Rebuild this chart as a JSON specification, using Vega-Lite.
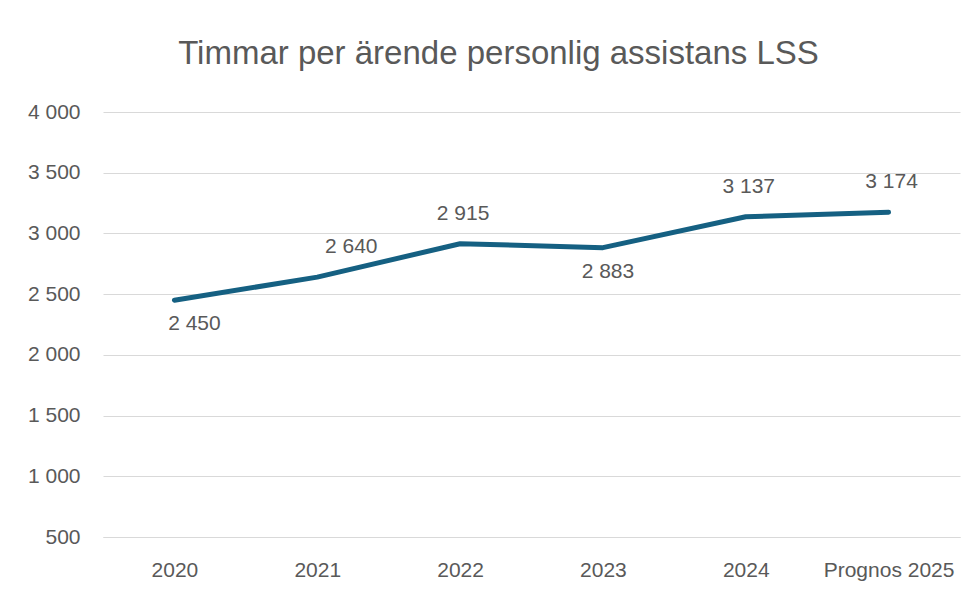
{
  "$schema": "https://vega.github.io/schema/vega-lite/v6.json",
  "width": 857,
  "height": 425,
  "autosize": {"type": "none"},
  "padding": {"left": 103, "top": 112, "right": 18, "bottom": 57},
  "background": "white",
  "config": {
    "locale": {"number": {"decimal": ",", "thousands": " ", "grouping": [3], "currency": ["", " kr"]}},
    "font": "Liberation Sans",
    "view": {"stroke": null},
    "axis": {"labelColor": "#595959", "labelFontSize": 21, "gridColor": "#d9d9d9", "domainColor": "#d9d9d9", "ticks": false, "title": null}
  },
  "title": {"text": "Timmar per ärende personlig assistans LSS", "fontSize": 33, "fontWeight": "normal", "color": "#595959", "anchor": "middle", "dx": -33, "offset": 30},
  "data": {"values": [
    {"year": "2020", "value": 2450},
    {"year": "2021", "value": 2640},
    {"year": "2022", "value": 2915},
    {"year": "2023", "value": 2883},
    {"year": "2024", "value": 3137},
    {"year": "Prognos 2025", "value": 3174}
  ]},
  "encoding": {
    "x": {"field": "year", "type": "ordinal", "scale": {"type": "point", "padding": 0.5}, "axis": {"labelAngle": 0, "labelPadding": 22, "domain": true, "grid": false}},
    "y": {"field": "value", "type": "quantitative", "scale": {"domain": [500, 4000], "nice": false, "zero": false}, "axis": {"values": [500, 1000, 1500, 2000, 2500, 3000, 3500, 4000], "format": ",d", "labelPadding": 23, "domain": false, "grid": true}}
  },
  "layer": [
    {"mark": {"type": "line", "color": "#156082", "strokeWidth": 5, "strokeCap": "round", "strokeJoin": "round"}},
    {"transform": [{"filter": "datum.year == '2020'"}], "mark": {"type": "text", "fontSize": 21, "color": "#595959", "baseline": "middle", "dy": 24, "dx": 20}, "encoding": {"text": {"field": "value", "type": "quantitative", "format": ",d"}}},
    {"transform": [{"filter": "datum.year == '2023'"}], "mark": {"type": "text", "fontSize": 21, "color": "#595959", "baseline": "middle", "dy": 24, "dx": 5}, "encoding": {"text": {"field": "value", "type": "quantitative", "format": ",d"}}},
    {"transform": [{"filter": "datum.year == '2021'"}], "mark": {"type": "text", "fontSize": 21, "color": "#595959", "baseline": "middle", "dy": -30, "dx": 34}, "encoding": {"text": {"field": "value", "type": "quantitative", "format": ",d"}}},
    {"transform": [{"filter": "datum.year == '2022' || datum.year == '2024' || datum.year == 'Prognos 2025'"}], "mark": {"type": "text", "fontSize": 21, "color": "#595959", "baseline": "middle", "dy": -30, "dx": 3}, "encoding": {"text": {"field": "value", "type": "quantitative", "format": ",d"}}}
  ]
}
